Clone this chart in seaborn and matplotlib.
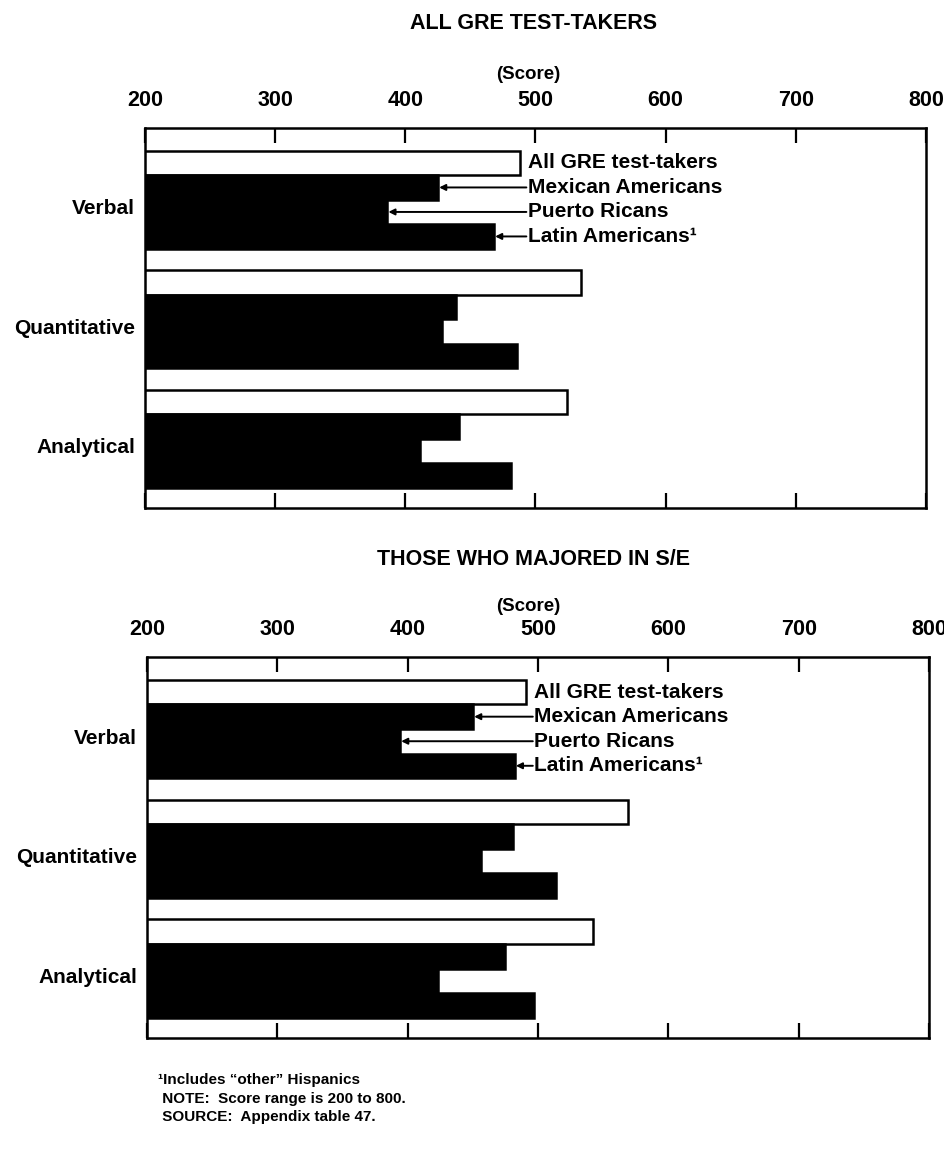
import matplotlib
matplotlib.use('Agg')
import matplotlib.pyplot as plt
import numpy as np
import pandas as pd
import seaborn as sns

# test sections and groups
categories = ['Verbal', 'Quantitative', 'Analytical']
groups = ['All GRE test-takers', 'Mexican Americans', 'Puerto Ricans', 'Latin Americans\u00b9']

# all GRE test-takers (scores)
all_gre_all = [488, 535, 524]
mexican_all = [425, 439, 441]
puerto_all = [386, 428, 411]
latin_all = [468, 486, 481]

# those who majored in S/E
all_gre_se = [491, 569, 542]
mexican_se = [450, 481, 475]
puerto_se = [394, 456, 423]
latin_se = [482, 514, 497]

score_ticks = [200, 300, 400, 500, 600, 700, 800]

panel_titles = ['ALL GRE TEST-TAKERS', 'THOSE WHO MAJORED IN S/E']
footnotes = ['\u00b9Includes \u201cother\u201d Hispanics',
             ' NOTE:  Score range is 200 to 800.',
             ' SOURCE:  Appendix table 47.']


def make_frame(series):
    rows = []
    for g, vals in zip(groups, series):
        for c, v in zip(categories, vals):
            rows.append({'section': c, 'group': g, 'score': v})
    return pd.DataFrame(rows)


df_all = make_frame([all_gre_all, mexican_all, puerto_all, latin_all])
df_se = make_frame([all_gre_se, mexican_se, puerto_se, latin_se])

sns.set_style('white')
plt.rcParams['font.family'] = ['Liberation Sans', 'DejaVu Sans']
plt.rcParams['text.color'] = 'black'
plt.rcParams['xtick.color'] = 'black'
plt.rcParams['ytick.color'] = 'black'
plt.rcParams['axes.labelcolor'] = 'black'

fig = plt.figure(figsize=(9.45, 11.7), dpi=100)

palette = {groups[0]: 'white', groups[1]: 'black', groups[2]: 'black', groups[3]: 'black'}

# axes boxes in figure fraction: [left, bottom, width, height]
boxes = [[0.1534, 0.5658, 0.8265, 0.3248],
         [0.1556, 0.1128, 0.8275, 0.3256]]
title_y = [0.9795, 0.5222]
score_y = [0.9360, 0.4812]

for k, (df, box) in enumerate(zip([df_all, df_se], boxes)):
    ax = fig.add_axes(box)
    sns.barplot(data=df, x='score', y='section', hue='group', order=categories,
                hue_order=groups, palette=palette, orient='h', width=0.82,
                edgecolor='black', linewidth=1.8, legend=False, ax=ax)
    ax.set_xlim(200, 800)
    ax.set_ylim(2.58, -0.60)

    # score axis on top, inward ticks on both sides
    ax.xaxis.tick_top()
    ax.set_xticks(score_ticks)
    ax.set_xticklabels([str(t) for t in score_ticks], fontsize=15.5, fontweight='bold')
    ax.tick_params(axis='x', which='both', direction='in', length=11, width=1.6,
                   top=True, bottom=True, labeltop=True, labelbottom=False, pad=12)
    ax.set_xlabel('')
    ax.set_ylabel('')

    ax.set_yticks(np.arange(len(categories)) + 0.06)
    ax.set_yticklabels(categories, fontsize=15, fontweight='bold')
    ax.tick_params(axis='y', length=0, pad=7)

    for s in ax.spines.values():
        s.set_visible(True)
        s.set_color('black')
        s.set_linewidth(1.8)

    # group labels with arrows beside the first section
    vals = df[df['section'] == categories[0]].set_index('group')['score']
    text_x = vals[groups[0]] + 6
    n = len(groups)
    for j, g in enumerate(groups):
        yy = 0 + (j - (n - 1) / 2) * 0.82 / n
        ax.text(text_x, yy, g, fontsize=15, fontweight='bold', va='center', ha='left')
        if j > 0:
            ax.annotate('', xy=(vals[g] + 1, yy), xytext=(text_x - 1, yy),
                        arrowprops=dict(arrowstyle='-|>', color='black', lw=1.4,
                                        mutation_scale=9, shrinkA=0, shrinkB=0))

    fig.text(0.565, title_y[k], panel_titles[k], ha='center', va='center',
             fontsize=15.5, fontweight='bold')
    fig.text(0.559, score_y[k], '(Score)', ha='center', va='center',
             fontsize=13.5, fontweight='bold')

# notes under the chart
for i, line in enumerate(footnotes):
    fig.text(0.167, 1 - (1080 + i * 18.5) / 1170, line, ha='left', va='center',
             fontsize=11, fontweight='bold')

plt.savefig('out.png', dpi=100)
